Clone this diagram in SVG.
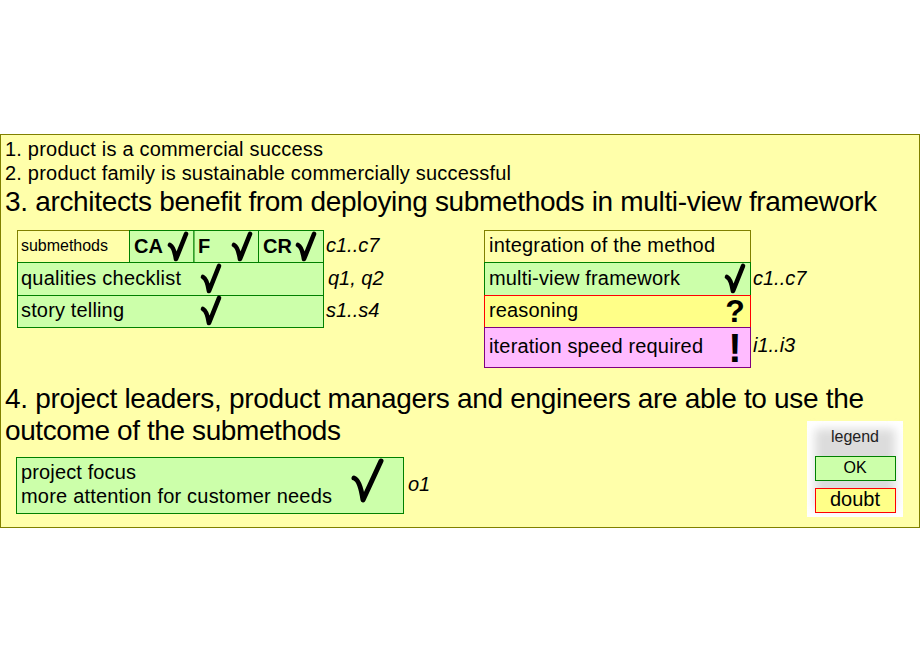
<svg xmlns="http://www.w3.org/2000/svg" width="920" height="660" viewBox="0 0 920 660">
<style>
text{font-family:"Liberation Sans",Arial,sans-serif;fill:#000}
.s20{font-size:20px}.s28{font-size:28px}
.i{font-size:20px;font-style:italic}
.b{font-size:20px;font-weight:bold}
.ok{fill:#ccffaa;stroke:#008000}
.yl{fill:#ffffaa;stroke:#808000}
.db{fill:#ffff88;stroke:#ff0000}
.pk{fill:#ffbbff;stroke:#800080}
.m{text-anchor:middle}
.ck{fill:none;stroke:#000;stroke-linecap:round;stroke-linejoin:round}
</style>
<defs>
<filter id="bl" x="-20%" y="-20%" width="140%" height="140%"><feGaussianBlur stdDeviation="5"/></filter>
<path id="ck" class="ck" stroke-width="4.6" d="M-6,-14 Q-2,-12 0,0 L10,-25"/>
<path id="ckL" class="ck" stroke-width="5" d="M-9,-22 Q-3,-20 0,0 L18,-39"/>
</defs>
<rect id="panel" x="0.5" y="134.5" width="919" height="393" class="yl"/>
<g id="titles">
<text x="5" y="156" class="s20" textLength="318">1. product is a commercial success</text>
<text x="5" y="180" class="s20" textLength="506">2. product family is sustainable commercially successful</text>
<text x="5" y="211" class="s28" textLength="872">3. architects benefit from deploying submethods in multi-view framework</text>
<text x="5" y="408" class="s28" textLength="859">4. project leaders, product managers and engineers are able to use the</text>
<text x="5" y="440" class="s28" textLength="336">outcome of the submethods</text>
</g>
<g id="submethods"><rect x="17.5" y="230.5" width="112" height="32" class="yl"/><text x="21" y="251" style="font-size:16px" textLength="87">submethods</text></g>
<g id="ca"><rect x="129.5" y="230.5" width="64.5" height="32" class="ok"/><text x="134" y="253" class="b">CA</text><use href="#ck" x="176" y="259"/></g>
<g id="f"><rect x="194" y="230.5" width="64.5" height="32" class="ok"/><text x="198" y="253" class="b">F</text><use href="#ck" x="240" y="259"/></g>
<g id="cr"><rect x="258.5" y="230.5" width="65" height="32" class="ok"/><text x="263" y="253" class="b">CR</text><use href="#ck" x="304" y="259"/></g>
<text x="326" y="252" class="i">c1..c7</text>
<g id="qualities"><rect x="17.5" y="262.5" width="306" height="33" class="ok"/><text x="21" y="285" class="s20" textLength="160">qualities checklist</text><use href="#ck" x="209" y="291"/></g>
<text x="328" y="285" class="i">q1, q2</text>
<g id="story"><rect x="17.5" y="295.5" width="306" height="32" class="ok"/><text x="21" y="317" class="s20" textLength="103">story telling</text><use href="#ck" x="209" y="323"/></g>
<text x="326" y="317" class="i">s1..s4</text>
<g id="integration"><rect x="484.5" y="230.5" width="266" height="32" class="yl"/><text x="489" y="252" class="s20" textLength="226">integration of the method</text></g>
<g id="multiview"><rect x="484.5" y="262.5" width="266" height="33" class="ok"/><text x="489" y="285" class="s20" textLength="191">multi-view framework</text><use href="#ck" x="733" y="291"/></g>
<text x="753" y="285" class="i">c1..c7</text>
<g id="reasoning"><rect x="484.5" y="295.5" width="266" height="32" class="db"/><text x="489" y="317" class="s20" textLength="89">reasoning</text><text x="735" y="322" class="m" style="font-size:32px;font-weight:bold">?</text></g>
<g id="iteration"><rect x="484.5" y="327.5" width="266" height="40" class="pk"/><text x="489" y="353" class="s20" textLength="214">iteration speed required</text><text x="735" y="362" class="m" style="font-size:40px;font-weight:bold">!</text></g>
<text x="753" y="352" class="i">i1..i3</text>
<g id="focus"><rect x="16.5" y="457.5" width="387" height="56" class="ok"/><text x="21" y="479" class="s20" textLength="115">project focus</text><text x="21" y="503" class="s20" textLength="311">more attention for customer needs</text><use href="#ckL" x="363" y="500"/></g>
<text x="408" y="491" class="i">o1</text>
<g id="legend"><rect x="807" y="421" width="96" height="96" fill="#fff"/><rect x="815" y="429" width="80" height="80" fill="#dcdcdc" filter="url(#bl)"/><text x="855" y="442" class="m" style="font-size:16px;fill:#222">legend</text>
<rect x="815.5" y="456.5" width="80" height="24" class="ok"/><text x="855" y="473" class="m" style="font-size:16px">OK</text>
<rect x="815.5" y="488.5" width="80" height="24" class="db"/><text x="855" y="506" class="m" style="font-size:20px">doubt</text></g>
</svg>
